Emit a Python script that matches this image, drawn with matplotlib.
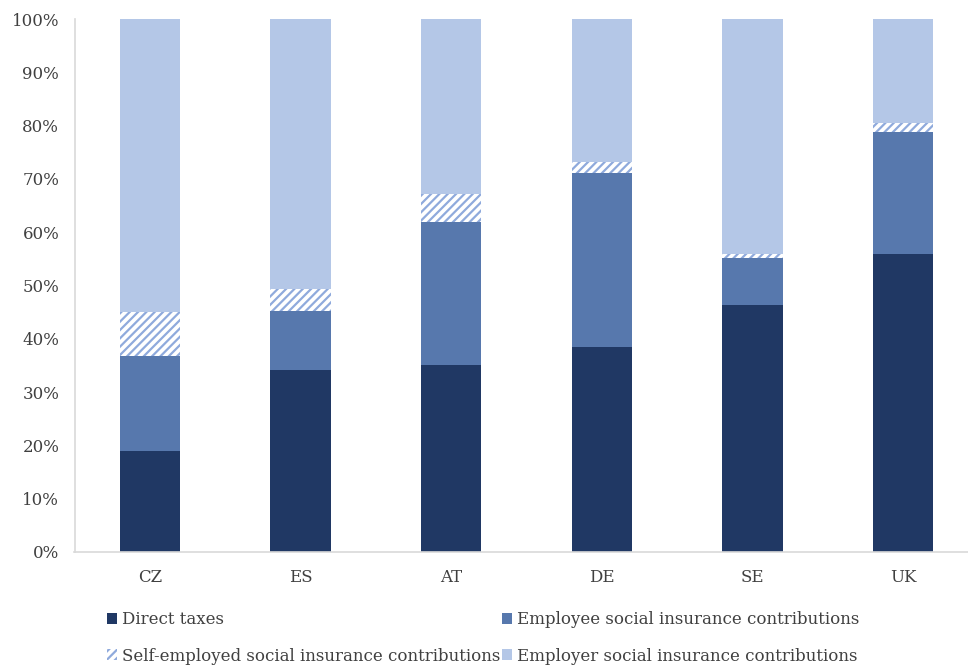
import matplotlib
matplotlib.use("Agg")
import matplotlib.pyplot as plt
import numpy as np
from matplotlib.patches import Patch

plt.rcParams['font.family'] = ['DejaVu Serif']
plt.rcParams['hatch.linewidth'] = 1.6

countries = ["CZ", "ES", "AT", "DE", "SE", "UK"]
direct_taxes = [19.0, 34.2, 35.0, 38.5, 46.4, 56.0]
employee_sic = [17.8, 11.1, 27.0, 32.7, 8.7, 22.8]
self_employed_sic = [8.3, 4.1, 5.1, 1.9, 0.9, 1.7]
employer_sic = [54.9, 50.6, 32.9, 26.9, 44.0, 19.5]
yticks = [0, 10, 20, 30, 40, 50, 60, 70, 80, 90, 100]

c_direct = "#203864"
c_employee = "#5778AD"
c_employer = "#B4C7E7"
c_hatch = "#8FAADC"

fig = plt.figure(figsize=(9.68, 6.65), dpi=100)
ax = fig.add_axes([74.5 / 968, 1 - 552 / 665, 904 / 968, 533 / 665])

x = np.arange(len(countries))
w = 0.4
d = np.array(direct_taxes)
e = np.array(employee_sic)
s = np.array(self_employed_sic)
r = np.array(employer_sic)

ax.bar(x, d, w, color=c_direct, linewidth=0)
ax.bar(x, e, w, bottom=d, color=c_employee, linewidth=0)
ax.bar(x, s, w, bottom=d + e, color="white", edgecolor=c_hatch, hatch="////", linewidth=0)
ax.bar(x, r, w, bottom=d + e + s, color=c_employer, linewidth=0)

ax.set_xlim(-0.5, len(countries) - 0.5)
ax.set_ylim(0, 100)
ax.set_yticks(yticks)
ax.set_yticklabels([f"{v}%" for v in yticks], fontsize=12, color="#404040")
ax.set_xticks(x)
ax.set_xticklabels(countries, fontsize=12, color="#404040")
ax.tick_params(axis="y", length=0, pad=11)
ax.tick_params(axis="x", length=0, pad=12)
for sp in ["top", "right"]:
    ax.spines[sp].set_visible(False)
for sp in ["left", "bottom"]:
    ax.spines[sp].set_color("#D9D9D9")
    ax.spines[sp].set_linewidth(1.2)

handles = [
    Patch(facecolor=c_direct, label="Direct taxes"),
    Patch(facecolor="white", edgecolor=c_hatch, hatch="////", linewidth=0,
          label="Self-employed social insurance contributions"),
    Patch(facecolor=c_employee, label="Employee social insurance contributions"),
    Patch(facecolor=c_employer, label="Employer social insurance contributions"),
]
fig.legend(handles=handles, ncol=2, loc="lower left",
           bbox_to_anchor=(92 / 968, -0.022), frameon=False,
           fontsize=12, handlelength=0.6, handleheight=0.6,
           handletextpad=0.3, columnspacing=0.1, labelspacing=1.15,
           labelcolor="#404040")

fig.savefig("out.png", dpi=100)
